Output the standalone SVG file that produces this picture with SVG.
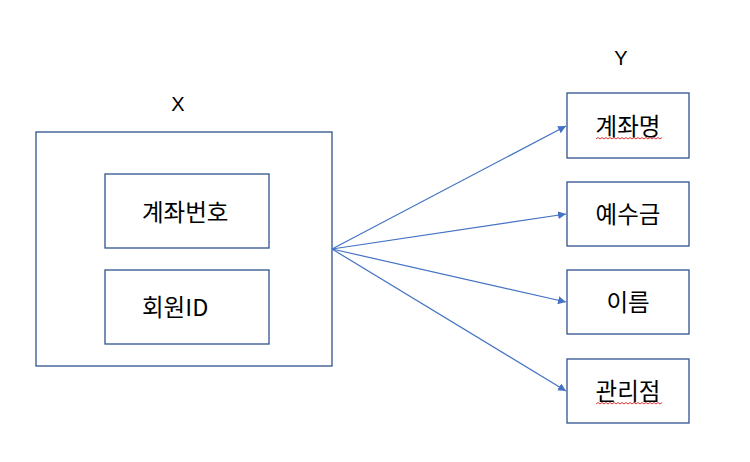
<svg xmlns="http://www.w3.org/2000/svg" width="750" height="462" viewBox="0 0 750 462">
<style>
.box{fill:#fff;stroke:#2F528F;stroke-width:1.3}
.t{font-family:"Noto Sans CJK KR","Liberation Sans",sans-serif;font-size:23.5px;fill:#000}
.l{font-family:"Liberation Sans",sans-serif;font-size:20px;fill:#000;text-anchor:middle}
.c{text-anchor:middle}
.ar{stroke:#4472C4;stroke-width:1.2;fill:none;marker-end:url(#ah)}
.sq{stroke:#E02020;stroke-width:0.9;fill:none}
</style>
<defs>
<marker id="ah" viewBox="0 0 10 10" refX="10" refY="5" markerWidth="8" markerHeight="8" markerUnits="userSpaceOnUse" orient="auto">
<path d="M0,0 L10,5 L0,10 z" fill="#4472C4"/>
</marker>
</defs>
<rect width="750" height="462" fill="#fff"/>
<text class="l" x="178" y="111">X</text>
<text class="l" x="621" y="65">Y</text>
<g id="X">
<rect class="box" x="36" y="132" width="296" height="234"/>
</g>
<g id="acct_no">
<rect class="box" x="105" y="174" width="164" height="74"/>
<text class="t" x="142" y="221">계좌번호</text>
</g>
<g id="member_id">
<rect class="box" x="105" y="270" width="164" height="74"/>
<text class="t" x="142" y="316">회원ID</text>
</g>
<g id="acct_name">
<rect class="box" x="567" y="93" width="122" height="65"/>
<text class="t c" x="628" y="135">계좌명</text>
<path class="sq" d="M596,139 l2,-1.5 l2,1.5 l2,-1.5 l2,1.5 l2,-1.5 l2,1.5 l2,-1.5 l2,1.5 l2,-1.5 l2,1.5 l2,-1.5 l2,1.5 l2,-1.5 l2,1.5 l2,-1.5 l2,1.5 l2,-1.5 l2,1.5 l2,-1.5 l2,1.5 l2,-1.5 l2,1.5 l2,-1.5 l2,1.5 l2,-1.5 l2,1.5 l2,-1.5 l2,1.5 l2,-1.5 l2,1.5 l2,-1.5 l2,1.5 l2,-1.5"/>
</g>
<g id="deposit">
<rect class="box" x="567" y="182" width="122" height="64"/>
<text class="t c" x="628" y="223">예수금</text>
</g>
<g id="name">
<rect class="box" x="567" y="270" width="122" height="64"/>
<text class="t c" x="628" y="311">이름</text>
</g>
<g id="branch">
<rect class="box" x="567" y="359" width="122" height="64"/>
<text class="t c" x="628" y="400">관리점</text>
<path class="sq" d="M596,404 l2,-1.5 l2,1.5 l2,-1.5 l2,1.5 l2,-1.5 l2,1.5 l2,-1.5 l2,1.5 l2,-1.5 l2,1.5 l2,-1.5 l2,1.5 l2,-1.5 l2,1.5 l2,-1.5 l2,1.5 l2,-1.5 l2,1.5 l2,-1.5 l2,1.5 l2,-1.5 l2,1.5 l2,-1.5 l2,1.5 l2,-1.5 l2,1.5 l2,-1.5 l2,1.5 l2,-1.5 l2,1.5 l2,-1.5 l2,1.5 l2,-1.5"/>
</g>
<g id="connectors">
<line class="ar" x1="332" y1="249" x2="566" y2="126"/>
<line class="ar" x1="332" y1="249" x2="566" y2="214"/>
<line class="ar" x1="332" y1="249" x2="566" y2="302"/>
<line class="ar" x1="332" y1="249" x2="566" y2="391"/>
</g>
</svg>
